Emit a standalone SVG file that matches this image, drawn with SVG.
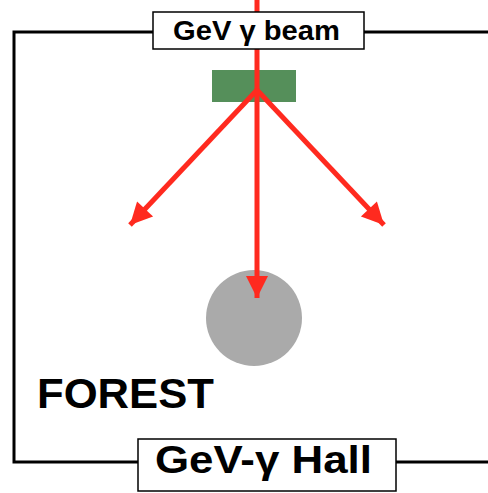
<svg xmlns="http://www.w3.org/2000/svg" width="488" height="493" viewBox="0 0 488 493">
  <style>
    .wall { fill: none; stroke: #000; stroke-width: 3; }
    .box { fill: #fff; stroke: #000; stroke-width: 1.5; }
    .lbl { font-family: "Liberation Sans", Arial, sans-serif; font-weight: bold; fill: #000; }
    .ray { stroke: #ff2a1f; stroke-width: 5; fill: none; }
  </style>
  <defs>
    <marker id="head" viewBox="0 0 10 10" refX="10" refY="5" markerWidth="5.4" markerHeight="4.4" orient="auto" markerUnits="strokeWidth">
      <path d="M0,0 L10,5 L0,10 z" fill="#ff2a1f"/>
    </marker>
  </defs>
  <rect width="488" height="493" fill="#fff"/>

  <!-- hall walls -->
  <g id="hall-walls">
    <path class="wall" d="M154,32 H14 V462 H138"/>
    <path class="wall" d="M364,32 H488"/>
    <path class="wall" d="M396,462 H488"/>
  </g>

  <!-- target -->
  <g id="target">
    <rect x="212" y="70" width="84" height="32" fill="#558f5a"/>
  </g>

  <!-- detector -->
  <g id="detector">
    <circle cx="254" cy="318" r="48" fill="#aaaaaa"/>
  </g>

  <!-- beam and scattered particles -->
  <g id="connectors">
    <line class="ray" x1="257" y1="0" x2="257" y2="298" marker-end="url(#head)"/>
    <line class="ray" x1="257" y1="90" x2="130" y2="225" marker-end="url(#head)"/>
    <line class="ray" x1="257" y1="90" x2="384" y2="225" marker-end="url(#head)"/>
  </g>

  <g id="beam-label">
    <rect class="box" x="153" y="12" width="211" height="37"/>
    <text class="lbl" x="173" y="40" font-size="27" textLength="167" lengthAdjust="spacingAndGlyphs">GeV γ beam</text>
  </g>

  <g id="forest-label">
    <text class="lbl" x="37" y="408" font-size="43" textLength="177" lengthAdjust="spacingAndGlyphs">FOREST</text>
  </g>

  <g id="hall-label">
    <rect class="box" x="138" y="439" width="258" height="52"/>
    <text class="lbl" x="155" y="473" font-size="38" textLength="217" lengthAdjust="spacingAndGlyphs">GeV-γ Hall</text>
  </g>
</svg>
